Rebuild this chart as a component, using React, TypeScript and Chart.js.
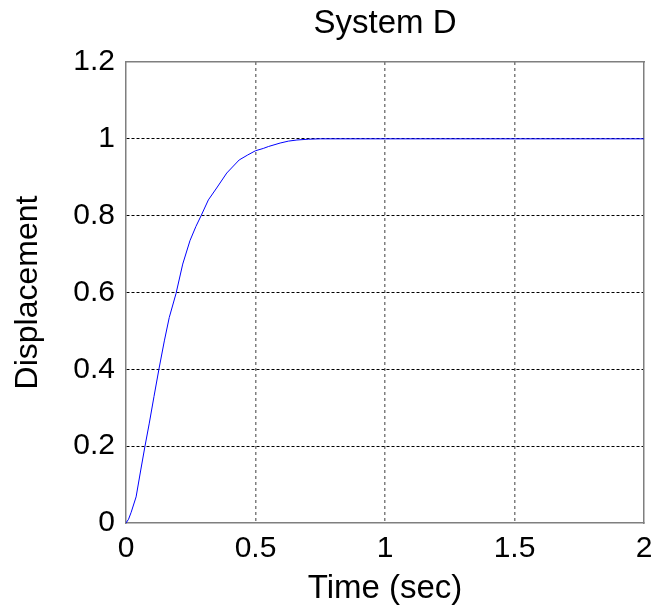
import React, { useEffect, useRef } from "react";
import { Chart, registerables } from "chart.js";

Chart.register(...registerables);

const titleText = "System D";
const xAxisTitle = "Time (sec)";
const yAxisTitle = "Displacement";

const timeSec = [
  0, 0.01, 0.02, 0.039, 0.057, 0.073, 0.09, 0.108, 0.127, 0.148, 0.167, 0.193,
  0.219, 0.247, 0.27, 0.29, 0.318, 0.35, 0.389, 0.437, 0.47, 0.5, 0.53, 0.55,
  0.595, 0.627, 0.66, 0.704, 0.75, 1.0, 1.5, 2.0,
];
const displacement = [
  0, 0.01, 0.028, 0.068, 0.138, 0.199, 0.26, 0.329, 0.4, 0.474, 0.535, 0.597,
  0.674, 0.735, 0.772, 0.8, 0.841, 0.872, 0.911, 0.945, 0.958, 0.969, 0.975,
  0.98, 0.989, 0.994, 0.997, 0.999, 1.0, 1.0, 1.0, 1.0,
];

const xTickValues = [0, 0.5, 1, 1.5, 2];
const xTickLabels = ["0", "0.5", "1", "1.5", "2"];
const yTickValues = [0, 0.2, 0.4, 0.6, 0.8, 1.0, 1.2];
const yTickLabels = ["0", "0.2", "0.4", "0.6", "0.8", "1", "1.2"];

const FONT = "'Liberation Sans', Arial, Helvetica, sans-serif";

function labelFor(values: number[], labels: string[], v: number): string {
  for (let i = 0; i < values.length; i++) {
    if (Math.abs(values[i] - v) < 1e-6) return labels[i];
  }
  return "";
}

export default function App() {
  const canvasRef = useRef<HTMLCanvasElement | null>(null);

  useEffect(() => {
    document.body.style.margin = "0";
    const canvas = canvasRef.current;
    if (!canvas) return;
    const points = timeSec.map((t, i) => ({ x: t, y: displacement[i] }));

    const chart = new Chart(canvas, {
      type: "line",
      data: {
        datasets: [
          {
            data: points,
            borderColor: "#0000ff",
            borderWidth: 1,
            pointRadius: 0,
            tension: 0,
            fill: false,
          },
        ],
      },
      options: {
        animation: false,
        responsive: true,
        maintainAspectRatio: false,
        layout: { padding: { left: 0, right: 25, top: 0, bottom: 0 } },
        plugins: {
          legend: { display: false },
          tooltip: { enabled: false },
          title: { display: false },
        },
        scales: {
          x: {
            type: "linear",
            position: "bottom",
            min: 0,
            max: 2,
            afterBuildTicks: (scale: any) => {
              scale.ticks = xTickValues.map((v) => ({ value: v }));
            },
            afterFit: (scale: any) => {
              scale.height = 87;
            },
            ticks: {
              color: "#000",
              font: { family: FONT, size: 30 },
              padding: 8,
              maxRotation: 0,
              autoSkip: false,
              callback: (v: any) => labelFor(xTickValues, xTickLabels, Number(v)),
            },
            grid: {
              drawTicks: false,
              color: (ctx: any) =>
                ctx.index === 0 || ctx.index === xTickValues.length - 1
                  ? "rgba(0,0,0,0)"
                  : "#7f7f7f",
              lineWidth: 1.5,
            },
            border: { display: true, color: "#7f7f7f", width: 1.5, dash: [3, 3] },
            title: {
              display: true,
              text: xAxisTitle,
              color: "#000",
              font: { family: FONT, size: 33 },
              padding: { top: 0, bottom: 1 },
            },
          },
          y: {
            type: "linear",
            position: "left",
            min: 0,
            max: 1.2,
            afterBuildTicks: (scale: any) => {
              scale.ticks = yTickValues.map((v) => ({ value: v }));
            },
            afterFit: (scale: any) => {
              scale.width = 126;
            },
            ticks: {
              color: "#000",
              font: { family: FONT, size: 30 },
              padding: 11,
              autoSkip: false,
              callback: (v: any) => labelFor(yTickValues, yTickLabels, Number(v)),
            },
            grid: {
              drawTicks: false,
              color: (ctx: any) =>
                ctx.index === 0 || ctx.index === yTickValues.length - 1
                  ? "rgba(0,0,0,0)"
                  : "#000",
              lineWidth: 1,
            },
            border: { display: true, color: "#7f7f7f", width: 1.5, dash: [3, 2] },
            title: {
              display: true,
              text: yAxisTitle,
              color: "#000",
              font: { family: FONT, size: 32 },
              padding: { top: 9, bottom: 0 },
            },
          },
          xTop: {
            type: "linear",
            position: "top",
            min: 0,
            max: 2,
            afterFit: (scale: any) => {
              scale.height = 62;
            },
            ticks: { display: false },
            grid: { display: false, drawTicks: false },
            border: { display: true, color: "#7f7f7f", width: 1.5 },
            title: {
              display: true,
              text: titleText,
              color: "#000",
              font: { family: FONT, size: 33 },
              padding: { top: 4, bottom: 0 },
            },
          },
          yRight: {
            type: "linear",
            position: "right",
            min: 0,
            max: 1.2,
            afterFit: (scale: any) => {
              scale.width = 0;
            },
            ticks: { display: false },
            grid: { display: false, drawTicks: false },
            border: { display: true, color: "#7f7f7f", width: 1.5 },
          },
        },
      } as any,
    });

    return () => {
      chart.destroy();
    };
  }, []);

  return (
    <div style={{ position: "relative", width: 669, height: 610, background: "#fff" }}>
      <canvas ref={canvasRef} />
    </div>
  );
}
